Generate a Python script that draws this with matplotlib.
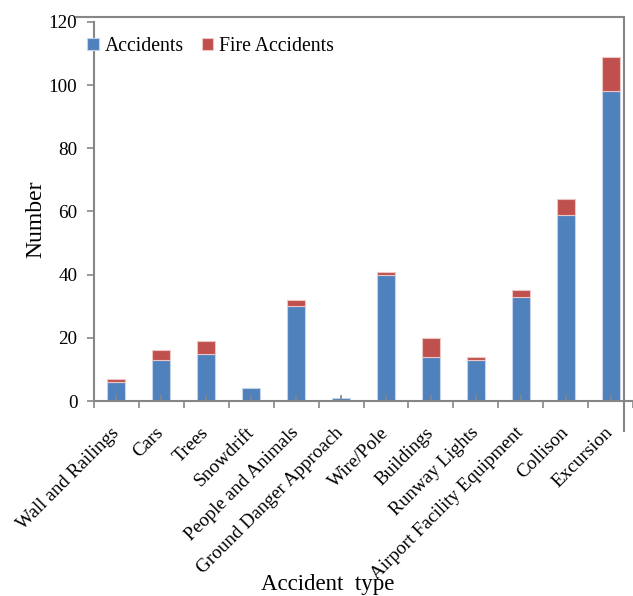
import matplotlib
matplotlib.use("Agg")
import matplotlib.pyplot as plt
from matplotlib.lines import Line2D
import numpy as np

categories = ["Wall and Railings", "Cars", "Trees", "Snowdrift", "People and Animals",
              "Ground Danger Approach", "Wire/Pole", "Buildings", "Runway Lights",
              "Airport Facility Equipment", "Collison", "Excursion"]
accidents = [6, 13, 15, 4, 30, 1, 40, 14, 13, 33, 59, 98]
fire_accidents = [1, 3, 4, 0, 2, 0, 1, 6, 1, 2, 5, 11]
y_ticks = [0, 20, 40, 60, 80, 100, 120]

plt.rcParams["font.family"] = ["Liberation Serif", "DejaVu Serif"]

W, H = 633, 596
fig = plt.figure(figsize=(W / 100, H / 100), dpi=100)

left_px, right_px, top_px, bottom_px = 94, 633, 22, 401
ax = fig.add_axes([left_px / W, 1 - bottom_px / H,
                   (right_px - left_px) / W, (bottom_px - top_px) / H])

blue = "#4F81BD"
red = "#C0504D"
grey = "#868686"

x = np.arange(len(categories))
ax.bar(x, accidents, width=0.4, color=blue, edgecolor="#c5d4ea",
       linewidth=[0.8 if v > 0 else 0 for v in accidents], label="Accidents")
ax.bar(x, fire_accidents, width=0.4, bottom=accidents, color=red,
       edgecolor="#ecc6c5", linewidth=[0.8 if v > 0 else 0 for v in fire_accidents],
       label="Fire Accidents")

cat_w = 45.4
ax.set_xlim(-0.5, -0.5 + (right_px - left_px) / cat_w)
ax.set_ylim(0, 120)
ax.set_yticks(y_ticks)
ax.set_yticklabels([str(v) for v in y_ticks], fontsize=13.8)

ax.set_xticks(x)
ax.set_xticklabels(categories, rotation=45, ha="right", va="center",
                   rotation_mode="anchor", fontsize=13.8)
ax.set_xticks(np.arange(len(categories) + 1) - 0.5, minor=True)
ax.tick_params(axis="x", which="major", direction="in", length=4, width=1.2,
               color=grey, pad=21)
ax.tick_params(axis="x", which="minor", direction="out", length=5, width=1.2,
               color=grey)
ax.tick_params(axis="y", direction="out", length=5, width=1.2, color=grey, pad=7)

for s in ["top", "right"]:
    ax.spines[s].set_visible(False)
for s in ["left", "bottom"]:
    ax.spines[s].set_color(grey)
    ax.spines[s].set_linewidth(1.5)

ax.set_ylabel("Number", fontsize=17)
ax.yaxis.set_label_coords((46 - left_px) / (right_px - left_px), 0.48)
ax.set_xlabel("Accident  type", fontsize=16.5)
ax.xaxis.set_label_coords((328 - left_px) / (right_px - left_px),
                          (bottom_px - 574) / (bottom_px - top_px))

ax.legend(loc="upper left", bbox_to_anchor=(87 / W, 1 - 37 / H),
          bbox_transform=fig.transFigure, frameon=False, ncol=2, fontsize=14.2,
          handlelength=0.6, handleheight=0.6, handletextpad=0.3,
          columnspacing=0.9, borderaxespad=0, borderpad=0)

# chart frame edges
fig.add_artist(Line2D([76 / W, 624 / W], [1 - 17 / H, 1 - 17 / H],
                      color=grey, lw=1.5, transform=fig.transFigure))
fig.add_artist(Line2D([624 / W, 624 / W], [1 - 17 / H, 1 - 431 / H],
                      color=grey, lw=1.5, transform=fig.transFigure))

fig.savefig("out.png", dpi=100)
